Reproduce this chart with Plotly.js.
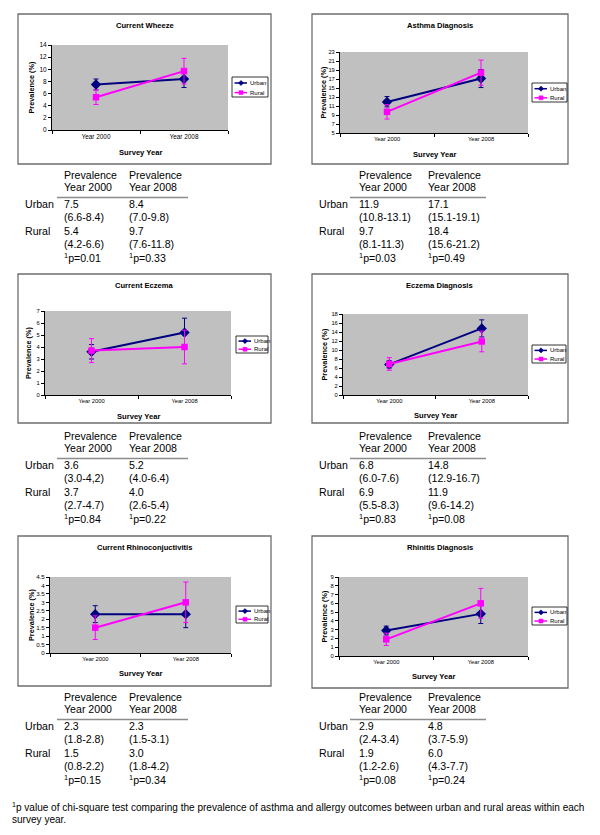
<!DOCTYPE html>
<html><head><meta charset="utf-8">
<script src="https://cdn.plot.ly/plotly-3.0.1.min.js"></script>
<style>html,body{margin:0;padding:0;background:#fff}#chart{width:600px;height:835px}</style>
</head><body><div id="chart"></div>
<script>
// ---------------- data ----------------
const titles = ['Current Wheeze', 'Asthma Diagnosis', 'Current Eczema', 'Eczema Diagnosis', 'Current Rhinoconjuctivitis', 'Rhinitis Diagnosis'];
const years = ['Year 2000', 'Year 2008'];
const seriesNames = ['Urban', 'Rural'];
const urban2000 = [7.5, 11.9, 3.6, 6.8, 2.3, 2.9];
const urban2008 = [8.4, 17.1, 5.2, 14.8, 2.3, 4.8];
const rural2000 = [5.4, 9.7, 3.7, 6.9, 1.5, 1.9];
const rural2008 = [9.7, 18.4, 4.0, 11.9, 3.0, 6.0];
const urbanCI2000 = ['6.6-8.4', '10.8-13.1', '3.0-4,2', '6.0-7.6', '1.8-2.8', '2.4-3.4'];
const urbanCI2008 = ['7.0-9.8', '15.1-19.1', '4.0-6.4', '12.9-16.7', '1.5-3.1', '3.7-5.9'];
const ruralCI2000 = ['4.2-6.6', '8.1-11.3', '2.7-4.7', '5.5-8.3', '0.8-2.2', '1.2-2.6'];
const ruralCI2008 = ['7.6-11.8', '15.6-21.2', '2.6-5.4', '9.6-14.2', '1.8-4.2', '4.3-7.7'];
const p2000 = ['0.01', '0.03', '0.84', '0.83', '0.15', '0.08'];
const p2008 = ['0.33', '0.49', '0.22', '0.08', '0.34', '0.24'];
const yMin = [0, 5, 0, 0, 0, 0];
const yMax = [14, 23, 7, 18, 4.5, 9];
const yStep = [2, 2, 1, 2, 0.5, 1];
const footnote = 'p value of chi-square test comparing the prevalence of asthma and allergy outcomes between urban and rural areas within each';
const footnote2 = 'survey year.';

// ---------------- geometry / styles ----------------
const W = 600, H = 835;
const FONT = '"Liberation Sans", Arial, sans-serif';
const URBAN = '#000080', RURAL = '#FF00FF';
const boxes = [[18,14,271,164],[312,14,568,164],[18,274,271,423],[312,274,568,423],[18,536,271,686],[312,536,568,688]];
const plots = [[52,45,228,130],[340,52,528,133],[45,311,231,395],[343,314,528,395],[50,577,231,653],[339,577,528,656]];
const titleY = [25,25,285,285,547,547];
const yTitleX = [31,323,28,324,31,324];
const xTitleY = [152,154,416,415,673,676];
const legendBoxes = [[232,77,268,97],[532,83,567,102],[236,336,268,353],[532,345,566,363],[236,606,268,623],[532,607,567,625]];
const tableTop = [175,175,436,436,697,697];
const tickFontY = [6.5,5.8,5.8,5.8,6.2,5.8];
const tickFontX = [6.4,5.8,5.8,5.8,5.8,5.8];
const colsLeft = [23, 62, 127], ruleLeft = [57, 188];
const colsRight = [317, 357, 426], ruleRight = [350, 486];
const ROWSTEP = 13.3;

const fx = x => x / W;
const fy = y => 1 - y / H;
const parseCI = s => s.replace(/,/g, '.').split('-').map(Number);

const data = [];
const shapes = [];
const annotations = [];
const layout = {
  width: W, height: H, margin: {l:0, r:0, t:0, b:0, pad:0},
  paper_bgcolor: '#ffffff', plot_bgcolor: '#C0C0C0', showlegend: false,
  font: {family: FONT, color: '#000'}, shapes, annotations
};

function txt(x, y, text, size, opts) {
  annotations.push(Object.assign({
    xref: 'paper', yref: 'paper', x: fx(x), y: fy(y), text: text, showarrow: false,
    xanchor: 'left', yanchor: 'middle', font: {family: FONT, size: size, color: '#000'}
  }, opts || {}));
}

for (let i = 0; i < 6; i++) {
  const s = i === 0 ? '' : String(i + 1);
  const [px0, py0, px1, py1] = plots[i];
  const series = [
    {name: seriesNames[0], vals: [urban2000[i], urban2008[i]], ci: [parseCI(urbanCI2000[i]), parseCI(urbanCI2008[i])], color: URBAN, symbol: 'diamond', size: 8},
    {name: seriesNames[1], vals: [rural2000[i], rural2008[i]], ci: [parseCI(ruralCI2000[i]), parseCI(ruralCI2008[i])], color: RURAL, symbol: 'square', size: 6.5}
  ];
  series.forEach(se => data.push({
    type: 'scatter', mode: 'lines+markers', x: years, y: se.vals, name: se.name,
    xaxis: 'x' + s, yaxis: 'y' + s, hoverinfo: 'skip', cliponaxis: false,
    line: {color: se.color, width: 2},
    marker: {symbol: se.symbol, size: se.size, color: se.color, line: {width: 0}},
    error_y: {type: 'data', symmetric: false,
      array: se.vals.map((v, k) => se.ci[k][1] - v),
      arrayminus: se.vals.map((v, k) => v - se.ci[k][0]),
      color: se.color, thickness: 1, width: 2.5}
  }));
  layout['xaxis' + s] = {
    domain: [fx(px0), fx(px1)], anchor: 'y' + s, type: 'category', range: [-0.5, 1.5],
    tickson: 'boundaries', ticks: 'outside', ticklen: 3, tickwidth: 1, tickcolor: '#000',
    showline: true, linecolor: '#000', linewidth: 1, showgrid: false, zeroline: false,
    tickfont: {family: FONT, size: tickFontX[i], color: '#000'}, fixedrange: true
  };
  layout['yaxis' + s] = {
    domain: [fy(py1), fy(py0)], anchor: 'x' + s, range: [yMin[i], yMax[i]],
    tick0: yMin[i], dtick: yStep[i], ticks: 'outside', ticklen: 3, tickwidth: 1, tickcolor: '#000',
    showline: true, linecolor: '#000', linewidth: 1, showgrid: false, zeroline: false,
    tickfont: {family: FONT, size: tickFontY[i], color: '#000'}, fixedrange: true
  };

  // outer frame
  const [bx0, by0, bx1, by1] = boxes[i];
  shapes.push({type: 'rect', xref: 'paper', yref: 'paper', x0: fx(bx0), x1: fx(bx1), y0: fy(by1), y1: fy(by0),
    line: {color: '#6e6e6e', width: 1.3}, fillcolor: 'rgba(0,0,0,0)', layer: 'below'});

  // titles
  txt((bx0 + bx1) / 2, titleY[i], '<b>' + titles[i] + '</b>', 7.6, {xanchor: 'center'});
  txt(yTitleX[i], (py0 + py1) / 2, '<b>Prevalence (%)</b>', 7.3, {xanchor: 'center', textangle: -90});
  txt((px0 + px1) / 2, xTitleY[i], '<b>Survey Year</b>', 7.6, {xanchor: 'center'});

  // legend
  const [lx0, ly0, lx1, ly1] = legendBoxes[i];
  shapes.push({type: 'rect', xref: 'paper', yref: 'paper', x0: fx(lx0), x1: fx(lx1), y0: fy(ly1), y1: fy(ly0),
    line: {color: '#000', width: 0.8}, fillcolor: '#fff'});
  const rowH = (ly1 - ly0);
  const rows = [ly0 + rowH * 0.3, ly0 + rowH * 0.78];
  series.forEach((se, k) => {
    const yy = rows[k];
    shapes.push({type: 'line', xref: 'paper', yref: 'paper', x0: fx(lx0 + 2.5), x1: fx(lx0 + 15), y0: fy(yy), y1: fy(yy),
      line: {color: se.color, width: 1.5}});
    const cx = lx0 + 9, r = k === 0 ? 2.6 : 2;
    const path = k === 0
      ? `M ${fx(cx - r)} ${fy(yy)} L ${fx(cx)} ${fy(yy - r)} L ${fx(cx + r)} ${fy(yy)} L ${fx(cx)} ${fy(yy + r)} Z`
      : `M ${fx(cx - r)} ${fy(yy - r)} L ${fx(cx + r)} ${fy(yy - r)} L ${fx(cx + r)} ${fy(yy + r)} L ${fx(cx - r)} ${fy(yy + r)} Z`;
    shapes.push({type: 'path', xref: 'paper', yref: 'paper', path: path, fillcolor: se.color, line: {color: se.color, width: 0.5}});
    txt(lx0 + 15.5, yy, se.name, 6);
  });

  // table
  const cols = i % 2 === 0 ? colsLeft : colsRight;
  const rule = i % 2 === 0 ? ruleLeft : ruleRight;
  const T = tableTop[i];
  const TS = 10.6;
  txt(cols[1], T, 'Prevalence', TS);
  txt(cols[1], T + 11.8, years[0], TS);
  txt(cols[2], T, 'Prevalence', TS);
  txt(cols[2], T + 11.8, years[1], TS);
  shapes.push({type: 'line', xref: 'paper', yref: 'paper', x0: fx(rule[0]), x1: fx(rule[1]), y0: fy(T + 22.5), y1: fy(T + 22.5),
    line: {color: '#8c8c8c', width: 1.4}});
  const R = T + 29;
  txt(cols[0], R, seriesNames[0], TS);
  txt(cols[1], R, urban2000[i].toFixed(1), TS);
  txt(cols[2], R, urban2008[i].toFixed(1), TS);
  txt(cols[1], R + ROWSTEP, '(' + urbanCI2000[i] + ')', TS);
  txt(cols[2], R + ROWSTEP, '(' + urbanCI2008[i] + ')', TS);
  txt(cols[0], R + 2 * ROWSTEP, seriesNames[1], TS);
  txt(cols[1], R + 2 * ROWSTEP, rural2000[i].toFixed(1), TS);
  txt(cols[2], R + 2 * ROWSTEP, rural2008[i].toFixed(1), TS);
  txt(cols[1], R + 3 * ROWSTEP, '(' + ruralCI2000[i] + ')', TS);
  txt(cols[2], R + 3 * ROWSTEP, '(' + ruralCI2008[i] + ')', TS);
  txt(cols[1], R + 4 * ROWSTEP, '<sup>1</sup>p=' + p2000[i], TS);
  txt(cols[2], R + 4 * ROWSTEP, '<sup>1</sup>p=' + p2008[i], TS);
}

txt(10, 807, '<sup>1</sup>' + footnote, 10.05);
txt(10, 819, footnote2, 10.05);

Plotly.newPlot('chart', data, layout, {displayModeBar: false, staticPlot: true});
</script>
</body></html>
